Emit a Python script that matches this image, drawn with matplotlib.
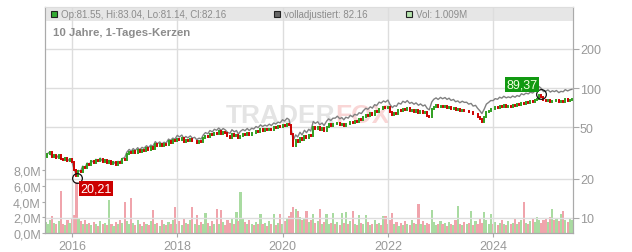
import numpy as np
import pandas as pd
import matplotlib
matplotlib.use("Agg")
import matplotlib.pyplot as plt
from matplotlib.patches import Rectangle
from matplotlib.ticker import NullLocator

plt.rcParams["font.family"] = ["Liberation Sans", "DejaVu Sans"]

# Semi-monthly closes (1st / 15th), Jul 2015 - Jul 2025
dates = pd.date_range("2015-07-01", "2025-07-01", freq="SMS")

close = np.array([
    # 2015 (Jul-Dec)
    29.5, 31.2, 32.3, 29.6, 30.4, 28.9, 30.5, 28.6, 28.0, 29.0, 27.3, 28.5,
    # 2016
    26.8, 23.6, 21.2, 23.0, 22.6, 24.8, 24.2, 26.2, 25.6, 27.3, 26.5, 28.0,
    27.2, 28.6, 27.0, 27.8, 26.4, 27.5, 26.2, 26.9, 25.6, 27.0, 26.6, 28.4,
    # 2017
    28.0, 30.8, 32.4, 31.4, 32.9, 31.8, 33.4, 32.2, 33.6, 33.0, 34.6, 33.5,
    35.0, 34.2, 37.2, 35.8, 37.0, 35.6, 36.8, 36.2, 38.9, 38.0, 39.6, 38.8,
    # 2018
    40.8, 39.6, 41.0, 38.6, 40.0, 39.0, 40.4, 38.8, 39.4, 37.8, 38.8, 38.2,
    41.2, 42.8, 42.0, 44.4, 43.4, 45.4, 44.6, 46.4, 44.5, 46.0, 44.8, 43.0,
    # 2019
    41.5, 44.2, 42.6, 43.6, 40.9, 43.0, 44.4, 43.4, 45.2, 43.6, 45.4, 44.8,
    46.8, 45.9, 48.2, 46.8, 48.0, 47.2, 48.8, 47.6, 49.8, 48.9, 50.6, 50.0,
    # 2020
    51.8, 50.6, 53.2, 52.0, 44.0, 36.0, 39.6, 38.2, 41.5, 39.6, 43.0, 41.2,
    43.8, 42.4, 50.2, 48.6, 50.0, 47.4, 48.9, 46.8, 50.4, 52.6, 51.2, 53.2,
    # 2021
    52.4, 54.2, 51.8, 52.9, 50.8, 53.2, 52.4, 55.0, 53.6, 56.0, 55.2, 57.6,
    56.8, 59.8, 62.4, 61.2, 64.0, 62.5, 66.5, 65.4, 69.5, 68.4, 71.0, 69.6,
    # 2022
    70.8, 65.5, 62.0, 64.2, 63.4, 67.2, 66.0, 69.4, 67.8, 70.2, 66.8, 68.0,
    65.8, 67.4, 64.6, 66.2, 63.8, 65.0, 61.0, 59.6, 68.4, 71.8, 73.6, 71.6,
    # 2023
    73.0, 71.2, 72.8, 70.4, 72.0, 69.2, 70.4, 67.6, 68.6, 66.4, 68.2, 66.8,
    67.0, 64.8, 65.6, 62.6, 63.4, 60.2, 57.6, 54.8, 59.6, 64.8, 66.8, 69.0,
    # 2024
    68.4, 70.8, 70.0, 72.6, 71.4, 73.8, 71.8, 73.0, 72.0, 74.2, 72.6, 74.8,
    73.6, 77.2, 75.8, 78.0, 77.0, 79.4, 78.2, 80.6, 82.8, 87.6, 84.6, 80.2,
    # 2025 (Jan-Jul)
    79.6, 81.2, 78.2, 80.0, 78.8, 80.4, 77.4, 79.2, 78.6, 81.6, 79.8, 81.2,
    82.2,
])

adj_years = np.arange(2015, 2026)
adj_factor = np.array([1.00, 1.01, 1.04, 1.06, 1.08, 1.10, 1.12, 1.14, 1.16, 1.17, 1.19])

# volume in millions, same dates
volume = np.array([
    1.4, 1.2, 1.6, 2.2, 1.3, 1.1, 1.5, 5.4, 1.2, 1.0, 1.6, 1.3,
    1.8, 2.3, 6.5, 1.9, 1.5, 1.2, 1.6, 1.1, 1.3, 1.0, 1.4, 1.2,
    0.9, 1.5, 1.1, 1.3, 1.0, 4.2, 1.2, 0.9, 1.4, 1.1, 1.7, 1.3,
    3.9, 1.5, 1.2, 4.5, 1.3, 1.0, 1.6, 1.1, 0.9, 1.4, 1.2, 1.0,
    1.5, 2.9, 1.1, 1.3, 0.9, 1.6, 1.2, 1.0, 1.4, 1.1, 1.7, 3.3,
    1.2, 1.5, 1.0, 1.8, 1.3, 1.1, 1.6, 3.3, 1.2, 2.3, 1.0, 1.4,
    1.1, 2.5, 1.3, 0.9, 1.5, 1.2, 3.0, 1.1, 2.9, 1.4, 1.0, 1.6,
    1.3, 1.8, 1.2, 2.7, 1.5, 5.2, 1.9, 1.4, 1.1, 1.6, 1.2, 1.0,
    1.4, 1.2, 2.4, 1.1, 1.3, 0.9, 1.5, 1.2, 2.4, 1.0, 1.3, 2.4,
    1.2, 1.5, 1.8, 2.2, 2.7, 3.3, 3.0, 2.8, 2.1, 1.6, 1.9, 2.8,
    1.4, 1.7, 2.4, 1.3, 1.5, 3.0, 1.2, 1.4, 2.4, 1.1, 1.3, 2.5,
    1.2, 1.4, 1.0, 2.5, 1.3, 2.7, 1.1, 1.5, 2.8, 1.2, 1.0, 2.3,
    1.3, 1.1, 2.3, 1.4, 1.0, 1.2, 1.6, 1.1, 1.3, 1.0, 2.2, 2.2,
    1.2, 1.6, 2.5, 1.1, 1.4, 0.9, 1.3, 1.0, 1.5, 1.2, 1.0, 1.6,
    1.3, 1.1, 3.7, 1.2, 1.5, 1.0, 1.3, 1.1, 2.9, 1.4, 1.0, 1.2,
    1.5, 1.1, 1.3, 0.9, 1.4, 1.2, 1.0, 1.6, 3.5, 1.2, 1.0, 1.4,
    1.1, 1.3, 2.8, 1.0, 1.5, 1.2, 1.8, 1.3, 2.7, 1.6, 1.2, 2.4,
    1.1, 1.4, 1.0, 1.3, 1.6, 1.2, 1.0, 1.5, 1.1, 1.3, 1.8, 1.2,
    1.4, 1.6, 4.0, 1.3, 1.1, 1.5, 1.9, 1.4, 2.1, 1.7, 1.3, 1.6,
    1.8, 1.4, 2.0, 3.0, 1.6, 1.9, 1.5, 2.4, 2.8, 1.7, 1.4, 1.8,
    1.6,
])

low_date, low_price = pd.Timestamp("2016-02-06"), 20.21
high_date, high_price = pd.Timestamp("2024-11-29"), 89.37

legend_ohlc = "Op:81.55, Hi:83.04, Lo:81.14, Cl:82.16"
legend_adj = "volladjustiert: 82.16"
legend_vol = "Vol: 1.009M"
title = "10 Jahre, 1-Tages-Kerzen"

vol_ticks = [0, 2, 4, 6, 8]
price_ticks = [10, 20, 50, 100, 200]
year_ticks = [2016, 2018, 2020, 2022, 2024]

RED = "#cc0000"
GREEN = "#2f9f1f"
VOL_RED = "#f0a4ac"
VOL_GREEN = "#a9dba1"
GRID = "#dddddd"
TXT = "#999999"

# derived
opens = np.r_[close[0], close[:-1]]
up = close >= opens
adj = close * adj_factor[dates.year - adj_years[0]]

fig = plt.figure(figsize=(6.32, 2.53), dpi=100)
ax = fig.add_axes([45 / 632, 1 - 234 / 253, 528 / 632, 226 / 253])
ax2 = ax.twinx()

# volume
ax.bar(dates, volume, width=15, color=np.where(up, VOL_GREEN, VOL_RED), linewidth=0)
ax.set_ylim(0, 28.8)
ax.set_yticks(vol_ticks)
ax.set_yticklabels([f"{v:.1f}M".replace(".", ",") for v in vol_ticks])
ax.set_xlim(dates[0] - pd.Timedelta(days=3), dates[-1] + pd.Timedelta(days=7))
ax.set_xticks([pd.Timestamp(f"{y}-01-01") for y in year_ticks])
ax.set_xticklabels([str(y) for y in year_ticks])

# price
ax2.set_yscale("log")
ax2.set_ylim(7.665, 419.9)
ax2.set_yticks(price_ticks)
ax2.set_yticklabels([str(p) for p in price_ticks])
ax2.yaxis.set_minor_locator(NullLocator())

for p in price_ticks:
    ax2.axhline(p, color=GRID, lw=1, zorder=1)
for y in year_ticks:
    ax2.axvline(pd.Timestamp(f"{y}-01-01"), color=GRID, lw=1, zorder=1)

# header band
ax2.add_patch(Rectangle((0, 0.938), 1, 0.062, transform=ax2.transAxes,
                        facecolor="#e6e6e6", edgecolor="none", zorder=0.5))
sq_w, sq_h = 6 / 528, 6 / 226
for x0, fc, txt in [(51, "#33aa33", legend_ohlc), (274, "#666666", legend_adj),
                    (406, "#b5e3ad", legend_vol)]:
    fx = (x0 - 45) / 528
    ax2.add_patch(Rectangle((fx, 0.9558), sq_w, sq_h, transform=ax2.transAxes,
                            facecolor=fc, edgecolor="#222222", lw=0.8, zorder=3))
    ax2.text(fx + 10 / 528, 0.969, txt, transform=ax2.transAxes, fontsize=7,
             color="#8c8c8c", va="center", ha="left", zorder=3)
ax2.text(8 / 528, 0.889, title, transform=ax2.transAxes, fontsize=8.2,
         fontweight="bold", color="#8c8c8c", va="center", ha="left", zorder=3)

# watermark
ax2.text(335 / 632, 1 - 116 / 253, "TRADER", transform=fig.transFigure, fontsize=19,
         fontweight="bold", color="#e4e4e4", ha="right", va="center", zorder=0.6)
ax2.text(335 / 632, 1 - 116 / 253, "FOX", transform=fig.transFigure, fontsize=19,
         fontweight="bold", color="#f9d6d6", ha="left", va="center", zorder=0.6)

# adjusted line and candles
ax2.plot(dates, adj, color="#808080", lw=1.0, zorder=2)
ax2.vlines(dates[up], opens[up], close[up], color=GREEN, lw=1.4, zorder=3,
           capstyle="projecting")
ax2.vlines(dates[~up], opens[~up], close[~up], color=RED, lw=1.4, zorder=3,
           capstyle="projecting")

# low / high markers
ax2.plot([low_date], [low_price], "o", ms=7, mfc="none", mec="#111111", mew=0.9, zorder=4)
ax2.plot([high_date], [high_price], "o", ms=7, mfc="none", mec="#111111", mew=0.9, zorder=4)
ax2.annotate(f"{low_price:.2f}".replace(".", ","), xy=(low_date, low_price),
             xytext=(13.5, -7.7), textcoords="offset points", ha="center", va="center",
             fontsize=9, color="white", zorder=5,
             bbox=dict(boxstyle="square,pad=0.12", fc=RED, ec="none"))
ax2.annotate(f"{high_price:.2f}".replace(".", ","), xy=(high_date, high_price),
             xytext=(-13.8, 7.4), textcoords="offset points", ha="center", va="center",
             fontsize=9, color="#f4ffe0", zorder=5,
             bbox=dict(boxstyle="square,pad=0.12", fc="#119911", ec="none"))

# axes styling
for a in (ax, ax2):
    for side in ("left", "right", "bottom"):
        a.spines[side].set_color("#aaaaaa")
    a.spines["top"].set_color("#dddddd")
ax.tick_params(axis="y", length=2, pad=1, colors="#aaaaaa", labelcolor=TXT, labelsize=9)
ax.tick_params(axis="x", length=3, pad=2, colors="#aaaaaa", labelcolor=TXT, labelsize=9)
ax2.tick_params(axis="y", length=4, pad=1, colors="#aaaaaa", labelcolor=TXT, labelsize=9)

fig.savefig("out.png", dpi=100)
